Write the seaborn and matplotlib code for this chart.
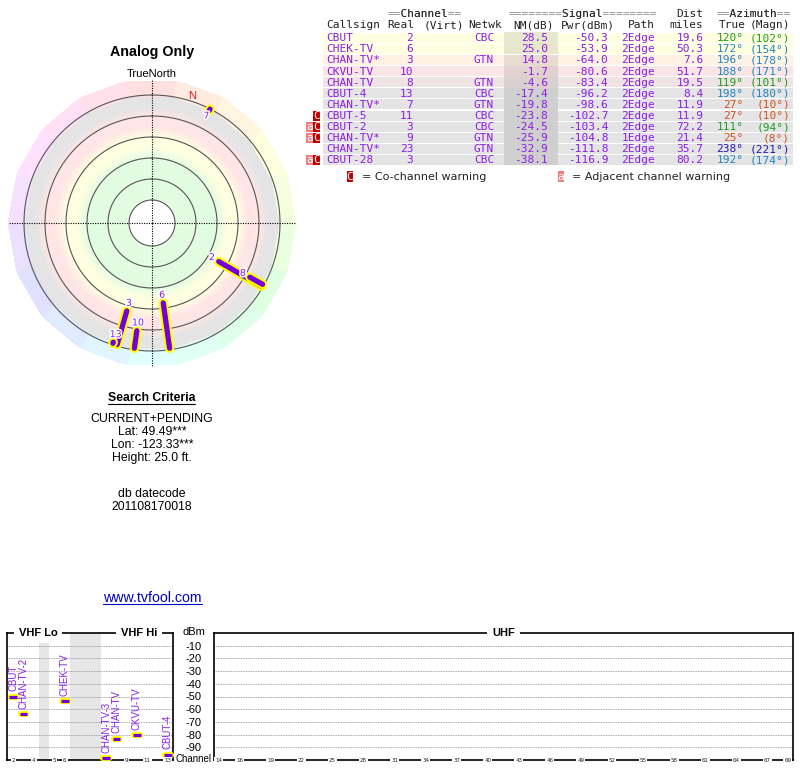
import numpy as np
import pandas as pd
import matplotlib
matplotlib.use("Agg")
import matplotlib.pyplot as plt
import matplotlib.patheffects as pe
from matplotlib.lines import Line2D
from matplotlib.colors import to_rgb, hsv_to_rgb
import seaborn as sns

sns.set_theme(style="white")
plt.rcParams["font.family"] = ["Liberation Sans", "DejaVu Sans"]

# ---------------- data ----------------
callsigns = ["CBUT", "CHEK-TV", "CHAN-TV*", "CKVU-TV", "CHAN-TV", "CBUT-4",
             "CHAN-TV*", "CBUT-5", "CBUT-2", "CHAN-TV*", "CHAN-TV*", "CBUT-28"]
real_ch = [2, 6, 3, 10, 8, 13, 7, 11, 3, 9, 23, 3]
netwk = ["CBC", "", "GTN", "", "GTN", "CBC", "GTN", "CBC", "CBC", "GTN", "GTN", "CBC"]
nm_db = [28.5, 25.0, 14.8, -1.7, -4.6, -17.4, -19.8, -23.8, -24.5, -25.9, -32.9, -38.1]
pwr_dbm = [-50.3, -53.9, -64.0, -80.6, -83.4, -96.2, -98.6, -102.7, -103.4, -104.8, -111.8, -116.9]
path = ["2Edge", "2Edge", "2Edge", "2Edge", "2Edge", "2Edge", "2Edge", "2Edge",
        "2Edge", "1Edge", "2Edge", "2Edge"]
dist_mi = [19.6, 50.3, 7.6, 51.7, 19.5, 8.4, 11.9, 11.9, 72.2, 21.4, 35.7, 80.2]
az_true = [120, 172, 196, 188, 119, 198, 27, 27, 111, 25, 238, 192]
az_magn = [102, 154, 178, 171, 101, 180, 10, 10, 94, 8, 221, 174]
warn_adj = [False, False, False, False, False, False, False, False, True, True, False, True]
warn_co = [False, False, False, False, False, False, False, True, True, True, False, True]

spec_names = ["CBUT", "CHAN-TV-2", "CHEK-TV", "CHAN-TV-3", "CHAN-TV", "CKVU-TV", "CBUT-4"]
spec_channels = [2, 3, 6, 7, 8, 10, 13]
spec_pwr = [-50.3, -64.0, -53.9, -98.6, -83.4, -80.6, -96.2]

vhf_tick_channels = [2, 4, 5, 6, 9, 11, 13]
uhf_tick_channels = [14, 16, 19, 22, 25, 28, 31, 34, 37, 40, 43, 46, 49, 52, 55, 58, 61, 64, 67, 69]
dbm_ticks = [-10, -20, -30, -40, -50, -60, -70, -80, -90]

search_mode = "CURRENT+PENDING"
lat, lon, height_ft = 49.49, -123.33, 25.0
datecode = "201108170018"

# ---------------- helpers ----------------
W, H = 800, 768
fig = plt.figure(figsize=(W / 100, H / 100), dpi=100)
fig.patch.set_facecolor("white")


def fx(x):
    return x / W


def fy(y):
    return 1 - y / H


PURPLE_LINE = "#7600d8"
PURPLE_TEXT = "#8a1ee4"
MONO = dict(family="DejaVu Sans Mono", size=8)

band_nm = [-20, -8, 0, 10, 20, 30, 40, 80]
band_col = ["#e4e4e4", "#e4e4e4", "#ffe5e5", "#ffe5e5", "#fefee1", "#fefee1", "#e2fce2", "#e2fce2"]
band_rgb = np.array([to_rgb(c) for c in band_col])


def nm_color(nm):
    return tuple(float(np.interp(nm, band_nm, band_rgb[:, k])) for k in range(3))


def az_color(a):
    if a < 60:
        return "#cc5520"
    if a < 150:
        return "#229a22"
    if a < 225:
        return "#2385bd"
    return "#1c1ca8"


# ---------------- left panel: polar ----------------
cx, cy, R = 152, 223, 144
axp = fig.add_axes([fx(cx - R), fy(cy + R), 2 * R / W, 2 * R / H], projection="polar")
axp.set_theta_zero_location("N")
axp.set_theta_direction(-1)
r_min = (0 - 107) / 1.05
r_max = (R - 107) / 1.05
axp.set_facecolor("white")

theta_e = np.linspace(0, 2 * np.pi, 361)
r_e = np.arange(-80, 20.01, 0.5)
r_c = (r_e[:-1] + r_e[1:]) / 2
rgb = np.array([nm_color(-v) for v in r_c])
C = np.repeat(rgb[:, None, :], len(theta_e) - 1, axis=1)
T, Rg = np.meshgrid(theta_e, r_e)
axp.pcolormesh(T, Rg, C, shading="flat", antialiased=False, zorder=0)

sector_deg = np.arange(0, 360, 20)
th_ring = np.deg2rad(np.append(sector_deg - 10, 350))
ring_rgb = np.array([hsv_to_rgb((d / 360.0, 0.12, 1.0)) for d in sector_deg])[None, :, :]
T2, R2 = np.meshgrid(th_ring, [20, r_max])
axp.pcolormesh(T2, R2, ring_rgb, shading="flat", antialiased=False, zorder=0)

th = np.linspace(0, 2 * np.pi, 500)
for rr in np.arange(-80, 21, 20):
    axp.plot(th, np.full_like(th, rr), color="#555555", lw=0.8, zorder=2)
for t in np.arange(4) * np.pi / 2:
    axp.plot([t, t], [r_min, r_max], color="black", lw=0.8, ls=(0, (1, 1.2)), zorder=2)

r_end = 18.5
rows = []
for i in range(len(nm_db)):
    if nm_db[i] > -20:
        rows.append(dict(station=i, theta=np.deg2rad(az_true[i]), r=-nm_db[i]))
        rows.append(dict(station=i, theta=np.deg2rad(az_true[i]), r=r_end))
df_polar = pd.DataFrame(rows)
sns.lineplot(data=df_polar, x="theta", y="r", units="station", estimator=None, sort=False,
             ax=axp, color=PURPLE_LINE, linewidth=3.8, solid_capstyle="round",
             path_effects=[pe.Stroke(linewidth=6.8, foreground="#ffff00"), pe.Normal()],
             legend=False, zorder=4)
for i in df_polar["station"].unique():
    axp.text(np.deg2rad(az_true[i]), -nm_db[i] - 7.5, str(real_ch[i]), color=PURPLE_TEXT,
             fontsize=6.8, family="DejaVu Sans", ha="center", va="center", zorder=6,
             path_effects=[pe.withStroke(linewidth=2.2, foreground="white")])

declination = float(np.mean(np.array(az_true) - np.array(az_magn)))
axp.text(np.deg2rad(declination), 25.2, "N", color="#e8141e", fontsize=8, ha="center", va="center", zorder=6)

axp.set_ylim(r_min, r_max)
axp.set_xticks([])
axp.set_yticks([])
axp.grid(False)
axp.spines["polar"].set_visible(False)
axp.set_xlabel("")
axp.set_ylabel("")


def ftext(x, y, s, **kw):
    kw.setdefault("ha", "center")
    kw.setdefault("va", "center")
    fig.text(fx(x), fy(y), s, **kw)


ftext(152, 51.7, "Analog Only", fontsize=10.3, fontweight="bold", color="black")
ftext(152, 74.3, "TrueNorth", fontsize=8, color="black")
ftext(151.7, 398.3, "Search Criteria", fontsize=8.8, fontweight="bold", color="black")
fig.add_artist(Line2D([fx(108.3), fx(195)], [fy(404)] * 2, color="black", lw=0.8))
ftext(152, 419.3, search_mode, fontsize=8.8, color="black")
ftext(152, 432.3, f"Lat: {lat:.2f}***", fontsize=8.8, color="black")
ftext(152, 445.3, f"Lon: {lon:.2f}***", fontsize=8.8, color="black")
ftext(152, 458.0, f"Height: {height_ft:.1f} ft.", fontsize=8.8, color="black")
ftext(152, 494.0, "db datecode", fontsize=8.8, color="black")
ftext(152, 506.5, datecode, fontsize=8.8, color="black")
ftext(152.2, 597.5, "www.tvfool.com", fontsize=10.2, color="#0000cc")
fig.add_artist(Line2D([fx(102.7), fx(201.7)], [fy(603.5)] * 2, color="#0000cc", lw=0.8))

# ---------------- table ----------------
axt = fig.add_axes([fx(300), fy(190), 500 / W, 190 / H])
n = len(callsigns)
row_top0, row_h = 32.3, 11.1
ymid = row_top0 + row_h * (np.arange(n) + 0.5)
row_cols = [nm_color(v) for v in nm_db]
axt.barh(ymid, 792.7 - 323.3, left=323.3, height=row_h - 1.1, color=row_cols, linewidth=0)
axt.barh(ymid, 557.7 - 504, left=504, height=row_h, color=[tuple(0.91 * c for c in rc) for rc in row_cols], linewidth=0)


def header(x, y, s):
    axt.text(x, y, s, color="#8a8a8a", ha="left", va="center", **MONO)
    axt.text(x, y, "".join(" " if ch == "=" else ch for ch in s), color="#222222", ha="left", va="center", **MONO)


h1, h2 = 14.3, 25.2
header(387.3, h1, "==Channel==")
header(508.3, h1, "========Signal========")
axt.text(703.3, h1, "Dist", color="#222222", ha="right", va="center", **MONO)
header(716.4, h1, "==Azimuth==")
for x, s, ha in [(326.7, "Callsign", "left"), (387.3, "Real", "left"), (423.3, "(Virt)", "left"),
                 (468.3, "Netwk", "left"), (513.3, "NM(dB)", "left"), (560.7, "Pwr(dBm)", "left"),
                 (655, "Path", "right"), (703.3, "miles", "right"), (718.3, "True", "left"),
                 (790, "(Magn)", "right")]:
    axt.text(x, h2, s, color="#222222", ha=ha, va="center", **MONO)

for i in range(n):
    y = ymid[i] + 0.4
    kw = dict(color=PURPLE_TEXT, va="center", **MONO)
    axt.text(326.7, y, callsigns[i], ha="left", **kw)
    axt.text(413.3, y, str(real_ch[i]), ha="right", **kw)
    axt.text(474, y, netwk[i], ha="left", **kw)
    axt.text(548.3, y, f"{nm_db[i]:.1f}", ha="right", **kw)
    axt.text(608.3, y, f"{pwr_dbm[i]:.1f}", ha="right", **kw)
    axt.text(655, y, path[i], ha="right", **kw)
    axt.text(703.3, y, f"{dist_mi[i]:.1f}", ha="right", **kw)
    axt.text(743.3, y, f"{az_true[i]}°", ha="right", color=az_color(az_true[i]), va="center", **MONO)
    axt.text(790, y, f"({az_magn[i]}°)", ha="right", color=az_color(az_true[i]), va="center", **MONO)
    if warn_adj[i]:
        axt.barh(ymid[i], 6.7, left=306, height=row_h - 1.1, color="#f08080", linewidth=0)
        axt.text(309.35, y, "a", color="white", ha="center", va="center", **MONO)
    if warn_co[i]:
        axt.barh(ymid[i], 7.3, left=312.7, height=row_h - 1.1, color="#c00000", linewidth=0)
        axt.text(316.35, y, "C", color="white", ha="center", va="center", **MONO)

leg_y = 176.8
axt.barh(leg_y, 6.6, left=346.7, height=11, color="#c00000", linewidth=0)
axt.text(350, leg_y, "C", color="white", ha="center", va="center", **MONO)
axt.text(361.7, leg_y, "= Co-channel warning", color="#222222", ha="left", va="center",
         family="DejaVu Sans", fontsize=8)
axt.barh(leg_y, 6.6, left=557.7, height=11, color="#f08080", linewidth=0)
axt.text(561, leg_y, "a", color="white", ha="center", va="center", **MONO)
axt.text(571.7, leg_y, "= Adjacent channel warning", color="#222222", ha="left", va="center",
         family="DejaVu Sans", fontsize=8)
axt.set_xlim(300, 800)
axt.set_ylim(190, 0)
axt.axis("off")

# ---------------- spectrum ----------------


def vhf_slot(ch):
    if ch <= 4:
        return ch - 2
    if ch <= 6:
        return ch - 1
    return ch + 2


axv = fig.add_axes([fx(6.7), fy(760), 166.3 / W, 127 / H])
axu = fig.add_axes([fx(214.3), fy(760), 578.4 / W, 127 / H])
axv.set_xlim(-0.64, 15.5)
axu.set_xlim(13.58, 69.46)
for ax in (axv, axu):
    ax.set_facecolor("white")
    ax.set_ylim(-100, 0)
    ax.set_yticks(dbm_ticks)
    ax.set_xticks([])
    ax.set_axisbelow(True)
    ax.grid(axis="y", ls=(0, (1, 1)), color="#8a8a8a", lw=0.6)
    ax.grid(axis="x", visible=False)
    for s in ax.spines.values():
        s.set_visible(True)
        s.set_color("black")
        s.set_linewidth(1.2)
    ax.tick_params(length=0)
axv.set_yticklabels([])
axu.set_yticklabels([str(v) for v in dbm_ticks], fontsize=8, color="black")
axu.tick_params(axis="y", pad=9)

axv.axvspan(2.5, 3.5, color="#e6e6e6", lw=0, zorder=0)
axv.axvspan(5.5, 8.5, color="#e6e6e6", lw=0, zorder=0)

title_kw = dict(ha="center", va="center", fontsize=8, fontweight="bold", color="black", zorder=10,
                bbox=dict(fc="white", ec="none", pad=3.5))
axv.text(np.mean([vhf_slot(c) for c in range(2, 7)]), 0, "VHF Lo", **title_kw)
axv.text(np.mean([vhf_slot(c) for c in range(7, 14)]) + 0.2, 0, "VHF Hi", **title_kw)
axu.text(np.mean(axu.get_xlim()), 0, "UHF", **title_kw)

tick_kw = dict(ha="center", va="center", fontsize=4, family="DejaVu Sans", color="#222222", zorder=10,
               bbox=dict(fc="white", ec="none", pad=0.7))
for ch in vhf_tick_channels:
    axv.text(vhf_slot(ch), -100, str(ch), **tick_kw)
for ch in uhf_tick_channels:
    axu.text(ch, -100, str(ch), **tick_kw)

for name, ch, p in zip(spec_names, spec_channels, spec_pwr):
    ax, x = (axv, vhf_slot(ch)) if ch <= 13 else (axu, ch)
    ax.plot([x - 0.27, x + 0.27], [p, p], color="#ffff00", lw=4.5, solid_capstyle="round",
            clip_on=False, zorder=6)
    ax.plot([x - 0.37, x + 0.37], [p, p], color=PURPLE_LINE, lw=2.3, solid_capstyle="butt",
            clip_on=False, zorder=7)
    ax.text(x, p + 4.5, name, rotation=90, ha="center", va="bottom", color=PURPLE_TEXT, fontsize=7, zorder=7)

ftext(194, 632, "dBm", fontsize=8, color="black")
ftext(193.7, 759.3, "Channel", fontsize=7, color="black")

fig.savefig("out.png", dpi=100, facecolor="white")
